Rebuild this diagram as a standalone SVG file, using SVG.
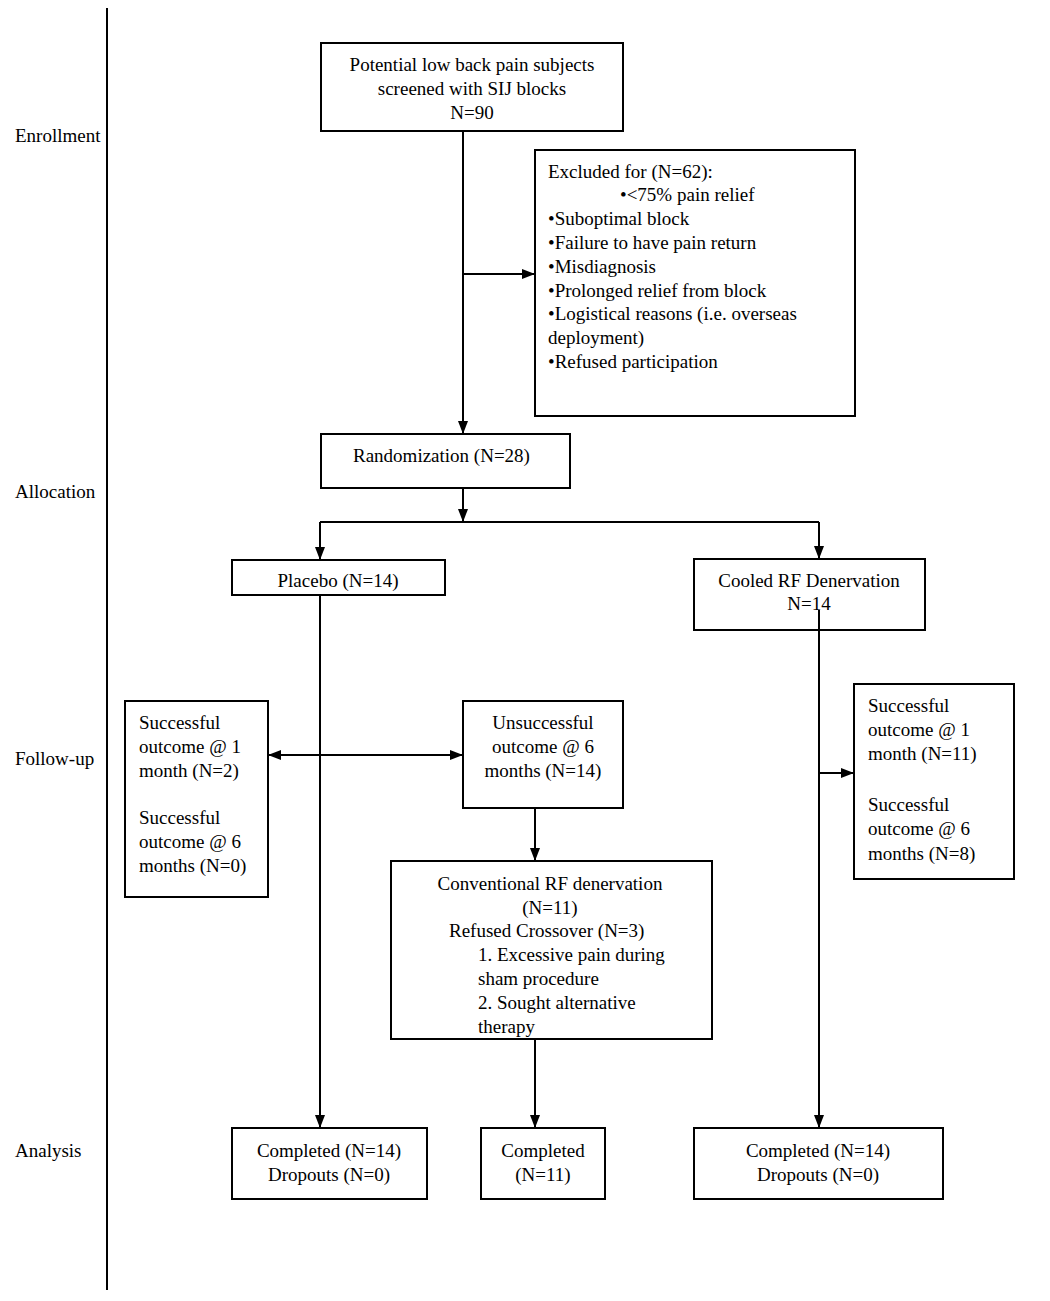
<svg xmlns="http://www.w3.org/2000/svg" width="1050" height="1301" viewBox="0 0 1050 1301">
<style>
text{font-family:"Liberation Serif","Times New Roman",serif;font-size:19px;fill:#000}
.c{text-anchor:middle}
rect{fill:#fff;stroke:#000;stroke-width:2}
.ln{stroke:#000;stroke-width:2;fill:none}
</style>
<defs>
<marker id="ah" viewBox="0 0 13 10" refX="13" refY="5" markerWidth="13" markerHeight="10" markerUnits="userSpaceOnUse" orient="auto-start-reverse">
<path d="M0,0 L13,5 L0,10 z" fill="#000"/>
</marker>
</defs>
<rect x="0" y="0" width="1050" height="1301" style="stroke:none"/>
<g id="stages">
<line class="ln" x1="107" y1="8" x2="107" y2="1290"/>
<text x="15" y="142">Enrollment</text>
<text x="15" y="498">Allocation</text>
<text x="15" y="765">Follow-up</text>
<text x="15" y="1157">Analysis</text>
</g>
<g id="connectors">
<line class="ln" x1="463" y1="131" x2="463" y2="434" marker-end="url(#ah)"/>
<line class="ln" x1="463" y1="274" x2="535" y2="274" marker-end="url(#ah)"/>
<line class="ln" x1="463" y1="488" x2="463" y2="522" marker-end="url(#ah)"/>
<line class="ln" x1="320" y1="522" x2="819" y2="522"/>
<line class="ln" x1="320" y1="522" x2="320" y2="560" marker-end="url(#ah)"/>
<line class="ln" x1="819" y1="522" x2="819" y2="559" marker-end="url(#ah)"/>
<line class="ln" x1="320" y1="595" x2="320" y2="1128" marker-end="url(#ah)"/>
<line class="ln" x1="268" y1="755" x2="463" y2="755" marker-start="url(#ah)" marker-end="url(#ah)"/>
<line class="ln" x1="535" y1="808" x2="535" y2="861" marker-end="url(#ah)"/>
<line class="ln" x1="535" y1="1039" x2="535" y2="1128" marker-end="url(#ah)"/>
<line class="ln" x1="819" y1="773" x2="854" y2="773" marker-end="url(#ah)"/>
</g>
<g id="screened">
<rect x="321" y="43" width="302" height="88"/>
<text class="c" x="472" y="71">Potential low back pain subjects</text>
<text class="c" x="472" y="95">screened with SIJ blocks</text>
<text class="c" x="472" y="119">N=90</text>
</g>
<g id="excluded">
<rect x="535" y="150" width="320" height="266"/>
<text x="548" y="178">Excluded for (N=62):</text>
<text x="620" y="201">•&lt;75% pain relief</text>
<text x="548" y="225">•Suboptimal block</text>
<text x="548" y="249">•Failure to have pain return</text>
<text x="548" y="273">•Misdiagnosis</text>
<text x="548" y="297">•Prolonged relief from block</text>
<text x="548" y="320">•Logistical reasons (i.e. overseas</text>
<text x="548" y="344">deployment)</text>
<text x="548" y="368">•Refused participation</text>
</g>
<g id="randomization">
<rect x="321" y="434" width="249" height="54"/>
<text x="353" y="462">Randomization (N=28)</text>
</g>
<g id="placebo">
<rect x="232" y="560" width="213" height="35"/>
<text class="c" x="338" y="587">Placebo (N=14)</text>
</g>
<g id="cooled">
<rect x="694" y="559" width="231" height="71"/>
<text class="c" x="809" y="587">Cooled RF Denervation</text>
<text class="c" x="809" y="610">N=14</text>
<line class="ln" x1="819" y1="610" x2="819" y2="630"/>
</g>
<line class="ln" x1="819" y1="630" x2="819" y2="1128" marker-end="url(#ah)"/>
<g id="placebo-success">
<rect x="125" y="701" width="143" height="196"/>
<text x="139" y="729">Successful</text>
<text x="139" y="753">outcome @ 1</text>
<text x="139" y="777">month (N=2)</text>
<text x="139" y="824">Successful</text>
<text x="139" y="848">outcome @ 6</text>
<text x="139" y="872">months (N=0)</text>
</g>
<g id="unsuccessful">
<rect x="463" y="701" width="160" height="107"/>
<text class="c" x="543" y="729">Unsuccessful</text>
<text class="c" x="543" y="753">outcome @ 6</text>
<text class="c" x="543" y="777">months (N=14)</text>
</g>
<g id="conventional">
<rect x="391" y="861" width="321" height="178"/>
<text class="c" x="550" y="890">Conventional RF denervation</text>
<text class="c" x="550" y="914">(N=11)</text>
<text x="449" y="937">Refused Crossover (N=3)</text>
<text x="478" y="961">1. Excessive pain during</text>
<text x="478" y="985">sham procedure</text>
<text x="478" y="1009">2. Sought alternative</text>
<text x="478" y="1033">therapy</text>
</g>
<g id="cooled-success">
<rect x="854" y="684" width="160" height="195"/>
<text x="868" y="712">Successful</text>
<text x="868" y="736">outcome @ 1</text>
<text x="868" y="760">month (N=11)</text>
<text x="868" y="811">Successful</text>
<text x="868" y="835">outcome @ 6</text>
<text x="868" y="860">months (N=8)</text>
</g>
<g id="completed-placebo">
<rect x="232" y="1128" width="195" height="71"/>
<text class="c" x="329" y="1157">Completed (N=14)</text>
<text class="c" x="329" y="1181">Dropouts (N=0)</text>
</g>
<g id="completed-conventional">
<rect x="481" y="1128" width="124" height="71"/>
<text class="c" x="543" y="1157">Completed</text>
<text class="c" x="543" y="1181">(N=11)</text>
</g>
<g id="completed-cooled">
<rect x="694" y="1128" width="249" height="71"/>
<text class="c" x="818" y="1157">Completed (N=14)</text>
<text class="c" x="818" y="1181">Dropouts (N=0)</text>
</g>
</svg>
